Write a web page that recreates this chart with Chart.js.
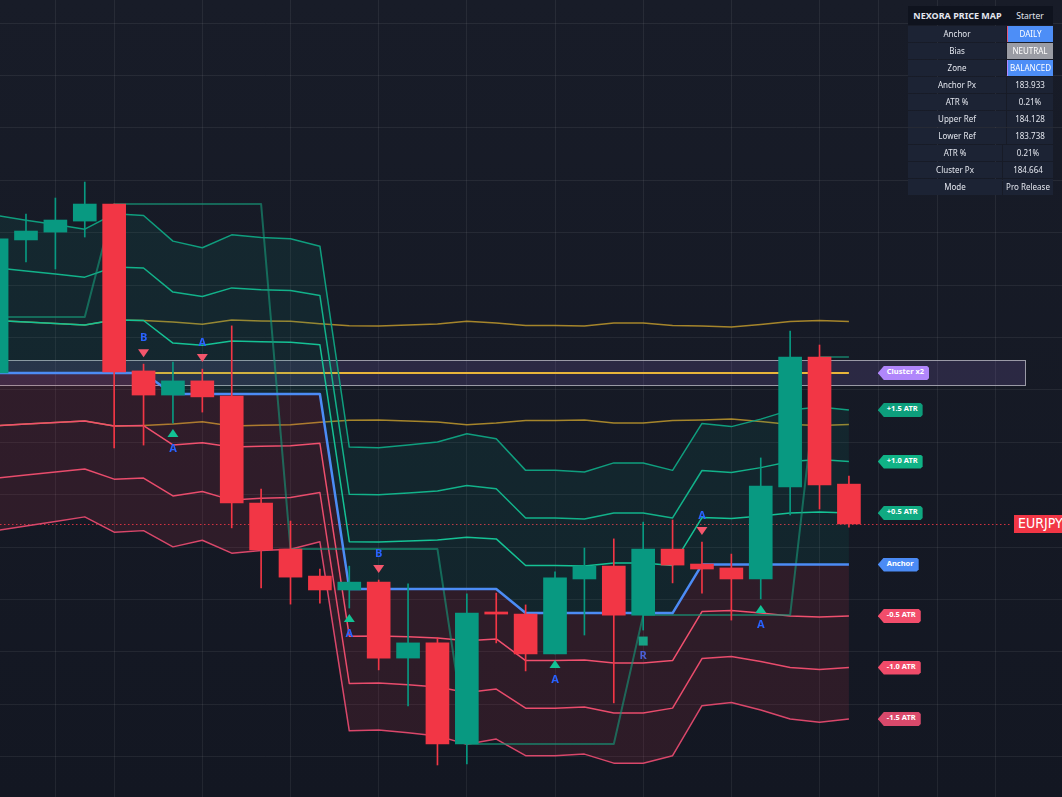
<!DOCTYPE html>
<html><head><meta charset="utf-8">
<script src="https://cdn.jsdelivr.net/npm/chart.js@4.4.1/dist/chart.umd.min.js"></script>
<style>
html,body{margin:0;padding:0;width:1062px;height:797px;overflow:hidden;background:linear-gradient(#181c28,#131722);}
#wrap{position:relative;width:1062px;height:797px;}
#c{position:absolute;left:0;top:0;width:1062px;height:797px;}
.tag{position:absolute;height:14px;line-height:14px;font:bold 7.5px "Noto Sans",sans-serif;color:#fff;padding:0 5px 0 9px;white-space:nowrap;
clip-path:polygon(0 50%,6px 0,calc(100% - 2px) 0,100% 2px,100% calc(100% - 2px),calc(100% - 2px) 100%,6px 100%);}
#sym{position:absolute;width:48px;height:18px;line-height:18px;background:#f23645;color:#fff;font:14px "Liberation Sans Narrow","DejaVu Sans Condensed",sans-serif;text-align:left;padding-left:4px;box-sizing:border-box;overflow:hidden;white-space:nowrap;}
#tbl{position:absolute;left:908px;top:6px;width:145px;font-family:"Noto Sans",sans-serif;color:#e3e6ee;}
#tbl .hdr{height:19px;background:#0f131e;display:flex;align-items:center;margin-bottom:1px;}
#tbl .hdr .a{width:99px;text-align:center;font-weight:bold;font-size:9px;}
#tbl .hdr .b{width:46px;text-align:center;font-size:8.5px;}
#tbl .row{height:16px;display:flex;margin-bottom:1px;}
#tbl .row div{height:16px;line-height:16px;background:#1c2334;text-align:center;font-size:8px;white-space:nowrap;overflow:hidden;box-sizing:border-box;}
</style></head>
<body><div id="wrap"><canvas id="c" width="1062" height="797"></canvas></div>
<script>
// ---------- DATA ----------
const candleIdx = [0,1,2,3,4,5,6,7,8,9,10,11,12,13,14,15,16,17,18,19,20,21,22,23,24,25,26,27,28,29];
const openP  = [184.664,185.172,185.202,185.244,185.309,184.672,184.580,184.634,184.576,184.168,183.992,183.889,183.836,183.866,183.576,183.634,183.248,183.752,183.744,183.592,183.878,183.927,183.740,183.992,183.935,183.920,183.878,184.229,184.725,184.240];
const highP  = [185.218,185.271,185.332,185.393,185.309,184.698,184.706,184.679,184.844,184.221,184.099,183.916,183.927,183.874,183.859,183.653,183.821,183.824,183.779,183.905,183.996,184.031,184.095,184.103,184.019,183.973,184.340,184.824,184.771,184.271];
const lowP   = [184.618,185.088,185.061,185.183,184.378,184.389,184.473,184.515,184.073,183.844,183.782,183.786,183.767,183.531,183.393,183.168,183.172,183.634,183.527,183.592,183.664,183.405,183.683,183.863,183.824,183.721,183.802,184.122,184.145,184.076];
const closeP = [185.176,185.206,185.248,185.309,184.668,184.580,184.634,184.573,184.168,183.989,183.885,183.836,183.866,183.576,183.634,183.248,183.748,183.744,183.592,183.882,183.927,183.740,183.992,183.931,183.916,183.878,184.233,184.725,184.237,184.088];
const anchorP = [184.664,184.664,184.664,184.664,184.664,184.664,184.584,184.584,184.584,184.584,184.584,184.584,183.840,183.840,183.840,183.840,183.840,183.840,183.748,183.748,183.748,183.748,183.748,183.748,183.933,183.933,183.933,183.933,183.933,183.933];
const atrP = [0.401,0.389,0.378,0.366,0.405,0.401,0.389,0.372,0.405,0.398,0.395,0.376,0.361,0.359,0.366,0.374,0.395,0.382,0.363,0.363,0.359,0.382,0.382,0.363,0.359,0.351,0.370,0.393,0.401,0.393];
const trailP = [184.878,184.878,184.878,184.878,185.309,185.309,185.309,185.309,185.309,185.309,183.992,183.992,183.992,183.992,183.992,183.992,183.248,183.248,183.248,183.248,183.248,183.248,183.740,183.740,183.740,183.740,183.740,183.740,184.725,184.725];
const clusterP = 184.664;
const clusterZone = [184.618, 184.714];
const zoneEndIdx = 35;
const tagIdx = 30;
const tagTexts  = ['Cluster x2','+1.5 ATR','+1.0 ATR','+0.5 ATR','Anchor','-0.5 ATR','-1.0 ATR','-1.5 ATR'];
const tagMults  = [null, 1.5, 1.0, 0.5, 0, -0.5, -1.0, -1.5];
const tagColors = ['#b086fb','#0d9e7c','#10b386','#10aa82','#4b8bf5','#f24d6b','#f04b69','#d9496b'];
const sigIdx  = [5,6,7,12,13,19,22,24,26];
const sigType = ['sell','buy','sell','buy','sell','buy','retest','sell','buy'];
const sigText = ['B','A','A','A','B','A','R','A','A'];
const xGridIdx = [2,4,7,10,13,16,19,22,25,28,30,32,34];
const yGridPx = [183.2,183.4,183.6,183.8,184.0,184.2,184.4,184.6,184.8,185.0,185.2,185.4,185.6,185.8,186.0];
const symbol = 'EURJPY';
const tableLabels = ['Anchor','Bias','Zone','Anchor Px','ATR %','Upper Ref','Lower Ref','ATR %','Cluster Px','Mode'];
const tableValues = ['DAILY','NEUTRAL','BALANCED','183.933','0.21%','184.128','183.738','0.21%','184.664','Pro Release'];
const tableTitle = ['NEXORA PRICE MAP','Starter'];

// ---------- TABLE ----------
const wrap = document.getElementById('wrap');
const tbl = document.createElement('div'); tbl.id='tbl';
tbl.innerHTML = '<div class="hdr"><span class="a">'+tableTitle[0]+'</span><span class="b">'+tableTitle[1]+'</span></div>';
tableLabels.forEach((lab,i)=>{
  const r=document.createElement('div'); r.className='row';
  const l=document.createElement('div'); const v=document.createElement('div');
  const wide = i>=7;
  l.style.width=(wide?94:98)+'px'; l.style.marginRight='1px'; v.style.width=(wide?50:46)+'px';
  l.textContent=lab; v.textContent=tableValues[i];
  if(i===0){v.style.background='#4d8ef7';v.style.color='#fff';v.style.borderLeft='1px solid #e4577a';}
  if(i===1){v.style.background='#9a9ca4';v.style.color='#fff';}
  if(i===2){v.style.background='#4d8ef7';v.style.color='#fff';v.style.borderLeft='1px solid #b388ff';}
  r.appendChild(l); r.appendChild(v); tbl.appendChild(r);
});
wrap.appendChild(tbl);

const tagEls = tagTexts.map((t,i)=>{const d=document.createElement('div');d.className='tag';d.textContent=t;d.style.background=tagColors[i];wrap.appendChild(d);return d;});
const symEl = document.createElement('div'); symEl.id='sym'; symEl.textContent=symbol; wrap.appendChild(symEl);

// ---------- DATASETS ----------
const pts = arr => candleIdx.map((k,i)=>({x:k,y:arr[i]}));
const band = m => anchorP.map((a,i)=>a + m*atrP[i]);
const isUp = candleIdx.map(i=>closeP[i]>=openP[i]);
const GREEN='#089981', RED='#f23645';
const cCol = isUp.map(u=>u?GREEN:RED);
const lineBase = {type:'line',pointRadius:0,pointHoverRadius:0,tension:0,fill:false,borderJoinStyle:'round'};

const datasets = [
  {...lineBase,label:'clU',data:pts(atrP.map(a=>clusterP+0.5*a)),borderColor:'rgba(214,170,45,0.75)',borderWidth:1.5,order:30},
  {...lineBase,label:'clL',data:pts(atrP.map(a=>clusterP-0.5*a)),borderColor:'rgba(214,170,45,0.75)',borderWidth:1.5,order:29},
  {...lineBase,label:'cluster',data:pts(candleIdx.map(()=>clusterP)),borderColor:'#e8b53a',borderWidth:2,order:28},
  {...lineBase,label:'anchorBase',data:pts(anchorP),borderColor:'rgba(0,0,0,0)',borderWidth:0,order:27},
  {...lineBase,label:'u15',data:pts(band(1.5)),borderColor:'#0f9e7e',borderWidth:1.5,order:26,fill:{target:3,above:'rgba(8,153,129,0.10)',below:'rgba(8,153,129,0.10)'}},
  {...lineBase,label:'u10',data:pts(band(1.0)),borderColor:'#12b28a',borderWidth:1.5,order:25},
  {...lineBase,label:'u05',data:pts(band(0.5)),borderColor:'#15c295',borderWidth:1.5,order:24},
  {...lineBase,label:'d15',data:pts(band(-1.5)),borderColor:'#d9476a',borderWidth:1.5,order:23,fill:{target:3,above:'rgba(242,54,80,0.12)',below:'rgba(242,54,80,0.12)'}},
  {...lineBase,label:'d10',data:pts(band(-1.0)),borderColor:'#e94c6c',borderWidth:1.5,order:22},
  {...lineBase,label:'d05',data:pts(band(-0.5)),borderColor:'#f0506e',borderWidth:1.5,order:21},
  {...lineBase,label:'trail',data:pts(trailP),borderColor:'rgba(22,150,120,0.62)',borderWidth:2,order:20},
  {...lineBase,label:'anchor',data:pts(anchorP),borderColor:'#4c8cf5',borderWidth:2.5,order:19},
  {type:'bar',label:'wick',data:candleIdx.map(i=>({x:i,y:[lowP[i],highP[i]]})),backgroundColor:cCol,barThickness:1,grouped:false,borderWidth:0,order:2},
  {type:'bar',label:'body',data:candleIdx.map(i=>({x:i,y:[openP[i],closeP[i]]})),backgroundColor:cCol,barThickness:23,grouped:false,borderWidth:0,minBarLength:2,order:1}
];

// ---------- PLUGIN ----------
const overlay = {
  id:'overlay',
  beforeDatasetsDraw(chart){
    const ctx=chart.ctx, xs=chart.scales.x, ys=chart.scales.y, ca=chart.chartArea;
    const x1=ca.left, x2=Math.round(xs.getPixelForValue(zoneEndIdx))+0.5;
    const yT=Math.round(ys.getPixelForValue(clusterZone[1]))+0.5, yB=Math.round(ys.getPixelForValue(clusterZone[0]))+0.5;
    ctx.save();
    ctx.fillStyle='rgba(179,136,255,0.14)';
    ctx.fillRect(x1,yT,x2-x1,yB-yT);
    ctx.strokeStyle='rgba(195,195,205,0.75)'; ctx.lineWidth=1;
    ctx.strokeRect(x1-2,yT,x2-x1+2,yB-yT);
    const yp=Math.round(ys.getPixelForValue(closeP[closeP.length-1]))+0.5;
    ctx.strokeStyle='rgba(242,54,69,0.85)'; ctx.setLineDash([1.5,2.5]); ctx.lineWidth=1.2;
    ctx.beginPath(); ctx.moveTo(ca.left,yp); ctx.lineTo(ca.right-50,yp); ctx.stroke();
    ctx.restore();
  },
  afterDatasetsDraw(chart){
    const ctx=chart.ctx, xs=chart.scales.x, ys=chart.scales.y;
    ctx.save();
    ctx.font='bold 11px "Noto Sans", sans-serif'; ctx.textAlign='center'; ctx.textBaseline='middle';
    sigIdx.forEach((k,i)=>{
      const x=xs.getPixelForValue(k);
      const t=sigType[i];
      if(t==='sell'){
        const y=ys.getPixelForValue(highP[k]);
        ctx.fillStyle='#f4566c'; ctx.beginPath();
        ctx.moveTo(x-5.5,y-15); ctx.lineTo(x+5.5,y-15); ctx.lineTo(x,y-7); ctx.closePath(); ctx.fill();
        ctx.fillStyle='#2962ff'; ctx.fillText(sigText[i],x,y-26);
      } else if(t==='buy'){
        const y=ys.getPixelForValue(lowP[k]);
        ctx.fillStyle='#12c294'; ctx.beginPath();
        ctx.moveTo(x-5.5,y+14); ctx.lineTo(x+5.5,y+14); ctx.lineTo(x,y+6); ctx.closePath(); ctx.fill();
        ctx.fillStyle='#2962ff'; ctx.fillText(sigText[i],x,y+26);
      } else {
        const y=ys.getPixelForValue(lowP[k]);
        ctx.fillStyle='#17a386'; ctx.fillRect(x-4.5,y+6.5,9,9);
        ctx.fillStyle='#4a5fd6'; ctx.fillText(sigText[i],x,y+26);
      }
    });
    ctx.restore();
  },
  afterRender(chart){
    const xs=chart.scales.x, ys=chart.scales.y, ca=chart.chartArea;
    const L=candleIdx.length-1;
    const tx=xs.getPixelForValue(tagIdx);
    tagMults.forEach((m,i)=>{
      const v = m===null ? clusterP : anchorP[L]+m*atrP[L];
      const y=ys.getPixelForValue(v);
      tagEls[i].style.left=(tx-0.5)+'px'; tagEls[i].style.top=(y-7)+'px';
    });
    const yp=ys.getPixelForValue(closeP[L]);
    symEl.style.left=(ca.right-48)+'px'; symEl.style.top=(yp-9)+'px';
  }
};

const gridCol='rgba(255,255,255,0.065)';
new Chart(document.getElementById('c'),{
  type:'bar',
  data:{datasets},
  options:{
    responsive:false, animation:false, maintainAspectRatio:false, devicePixelRatio:1,
    layout:{padding:0},
    plugins:{legend:{display:false},tooltip:{enabled:false}},
    scales:{
      x:{type:'linear',min:0.1157,max:36.25,offset:false,
         grid:{color:gridCol,drawTicks:false,offset:false},border:{display:false},ticks:{display:false},
         afterBuildTicks:s=>{s.ticks=xGridIdx.map(v=>({value:v}));},
         afterFit:s=>{s.height=0;}},
      y:{type:'linear',min:183.0458,max:186.0878,
         grid:{color:gridCol,drawTicks:false},border:{display:false},ticks:{display:false},
         afterBuildTicks:s=>{s.ticks=yGridPx.map(v=>({value:v}));},
         afterFit:s=>{s.width=0;}}
    }
  },
  plugins:[overlay]
});
</script>
</body></html>
